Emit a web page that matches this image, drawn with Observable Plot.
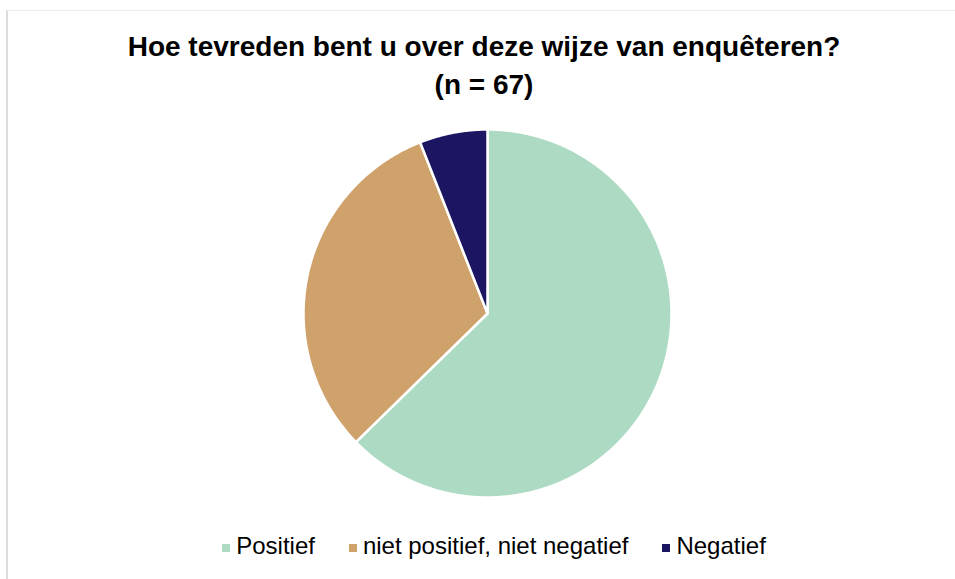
<!DOCTYPE html>
<html>
<head>
<meta charset="utf-8">
<script src="https://cdn.jsdelivr.net/npm/d3@7"></script>
<script src="https://cdn.jsdelivr.net/npm/@observablehq/plot@0.6"></script>
<style>
  html, body { margin: 0; padding: 0; background: #fff; }
  #wrap { position: relative; width: 955px; height: 579px; overflow: hidden; font-family: "Liberation Sans", Arial, sans-serif; }
  #frame { position: absolute; left: 6px; top: 10px; width: 960px; height: 580px; border-left: 2px solid #dcdcdc; border-top: 1px solid #ececec; }
  #title { position: absolute; left: 0; width: 968px; top: 28px; text-align: center; font-weight: bold; font-size: 28px; line-height: 38px; color: #000; white-space: nowrap; }
  #chart { position: absolute; left: 0; top: 113px; }
  #legend { position: absolute; left: 0; width: 988px; top: 533px; display: flex; justify-content: center; font-size: 24px; line-height: 26px; color: #000; white-space: nowrap; }
  .item { display: inline-block; margin: 0 17px; }
  .sw { display: inline-block; width: 8px; height: 8px; margin-right: 6px; vertical-align: 2px; }
</style>
</head>
<body>
<div id="wrap">
  <div id="frame"></div>
  <div id="title"></div>
  <div id="chart"></div>
  <div id="legend"></div>
</div>
<script>
const titleLines = ["Hoe tevreden bent u over deze wijze van enquêteren?", "(n = 67)"];
const categories = ["Positief", "niet positief, niet negatief", "Negatief"];
const counts = [42, 21, 4];
const colors = ["#addac3", "#cfa16b", "#1c1562"];

document.getElementById("title").innerHTML = titleLines.join("<br>");

// Build slice polygons from the data via d3.pie (angles from 12 o'clock, clockwise)
const arcs = d3.pie().sort(null).value(d => d.count)(categories.map((c, i) => ({category: c, count: counts[i]})));
const features = arcs.map(a => {
  const ring = [[0, 0]];
  const n = Math.max(2, Math.ceil((a.endAngle - a.startAngle) / (Math.PI / 360)));
  for (let k = 0; k <= n; k++) {
    const t = a.startAngle + (a.endAngle - a.startAngle) * k / n;
    ring.push([Math.sin(t), -Math.cos(t)]);
  }
  ring.push([0, 0]);
  return {type: "Feature", properties: {category: a.data.category}, geometry: {type: "Polygon", coordinates: [ring]}};
});

const W = 955, H = 400, cx = 487, cy = 200, R = 184;
const chart = Plot.plot({
  width: W,
  height: H,
  margin: 0,
  projection: () => d3.geoIdentity().scale(R).translate([cx, cy]),
  color: {domain: categories, range: colors},
  marks: [
    Plot.geo(features, {fill: d => d.properties.category, stroke: "white", strokeWidth: 2.5, strokeLinejoin: "round"})
  ]
});
document.getElementById("chart").appendChild(chart);

const legend = document.getElementById("legend");
categories.forEach((c, i) => {
  const item = document.createElement("span");
  item.className = "item";
  const sw = document.createElement("span");
  sw.className = "sw";
  sw.style.background = colors[i];
  item.appendChild(sw);
  item.appendChild(document.createTextNode(c));
  legend.appendChild(item);
});
</script>
</body>
</html>
